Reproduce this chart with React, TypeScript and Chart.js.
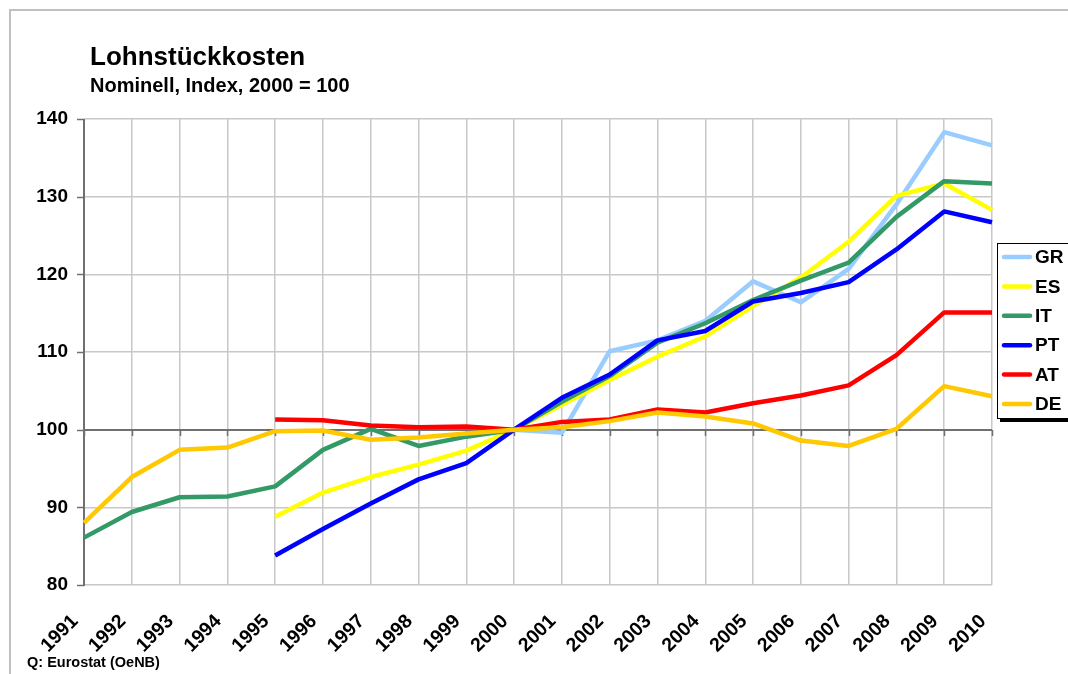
import React, { useEffect, useRef } from 'react';
import { Chart, registerables } from 'chart.js';
Chart.register(...registerables);

const years = ['1991','1992','1993','1994','1995','1996','1997','1998','1999','2000','2001','2002','2003','2004','2005','2006','2007','2008','2009','2010'];

const seriesGR = [null,null,null,null,null,null,null,null,null,100,99.6,110.1,111.5,114.0,119.1,116.4,120.7,129.0,138.3,136.6];
const seriesES = [null,null,null,null,88.8,91.9,93.9,95.5,97.3,100,103.2,106.4,109.4,112.0,115.9,119.6,124.2,130.1,131.7,128.3];
const seriesIT = [86.1,89.4,91.3,91.4,92.7,97.4,100.1,97.9,99.1,100,103.6,106.9,111.2,113.7,116.7,119.2,121.5,127.4,132.0,131.7];
const seriesPT = [null,null,null,null,83.8,87.2,90.5,93.6,95.7,100,104.1,107.1,111.5,112.7,116.5,117.6,119.0,123.2,128.1,126.7];
const seriesAT = [null,null,null,null,101.3,101.2,100.55,100.3,100.4,100,101.0,101.3,102.6,102.2,103.4,104.4,105.7,109.6,115.1,115.1];
const seriesDE = [88.0,93.9,97.4,97.7,99.8,99.9,98.7,99.0,99.5,100,100.3,101.1,102.2,101.7,100.8,98.6,97.9,100.1,105.6,104.3];

const seriesLabels = ['GR','ES','IT','PT','AT','DE'];
const seriesColors = ['#99CCFF','#FFFF00','#339966','#0000FF','#FF0000','#FFC800'];
const seriesData = [seriesGR, seriesES, seriesIT, seriesPT, seriesAT, seriesDE];

const titleText = 'Lohnstückkosten';
const subtitleText = 'Nominell, Index, 2000 = 100';
const sourceText = 'Q: Eurostat (OeNB)';

const yMin = 80;
const yMax = 140;
const yStep = 10;

const FONT = 'Arial, "Liberation Sans", sans-serif';

const decorPlugin = {
  id: 'decor',
  beforeDraw(chart: any) {
    const { ctx, width, height } = chart;
    ctx.save();
    ctx.fillStyle = '#ffffff';
    ctx.fillRect(0, 0, width, height);
    ctx.strokeStyle = '#C0C0C0';
    ctx.lineWidth = 2;
    ctx.beginPath();
    ctx.moveTo(10, height);
    ctx.lineTo(10, 10);
    ctx.lineTo(width, 10);
    ctx.stroke();
    ctx.restore();
  },
  beforeDatasetsDraw(chart: any) {
    const { ctx, chartArea, scales } = chart;
    const x = scales.x;
    const y = scales.y;
    ctx.save();
    ctx.strokeStyle = '#707070';
    ctx.lineWidth = 2;
    ctx.beginPath();
    ctx.moveTo(chartArea.left, chartArea.top);
    ctx.lineTo(chartArea.left, chartArea.bottom + 1);
    ctx.stroke();
    ctx.lineWidth = 1.5;
    y.ticks.forEach((t: any) => {
      const py = Math.round(y.getPixelForValue(t.value)) + 0.5;
      ctx.beginPath();
      ctx.moveTo(chartArea.left - 7, py);
      ctx.lineTo(chartArea.left, py);
      ctx.stroke();
    });
    const p100 = Math.round(y.getPixelForValue(100));
    ctx.lineWidth = 2;
    ctx.beginPath();
    ctx.moveTo(chartArea.left, p100);
    ctx.lineTo(chartArea.right, p100);
    ctx.stroke();
    ctx.lineWidth = 1.5;
    years.forEach((_, i) => {
      const px = Math.round(x.getPixelForValue(i)) + 0.5;
      ctx.beginPath();
      ctx.moveTo(px, p100);
      ctx.lineTo(px, p100 + 6);
      ctx.stroke();
    });
    ctx.restore();
  },
  afterDraw(chart: any) {
    const { ctx } = chart;
    ctx.save();
    ctx.fillStyle = '#000000';
    ctx.textBaseline = 'alphabetic';
    ctx.textAlign = 'left';
    ctx.font = `bold 26px ${FONT}`;
    ctx.fillText(titleText, 90, 65);
    ctx.font = `bold 20px ${FONT}`;
    ctx.fillText(subtitleText, 90, 92);
    ctx.font = `bold 14.5px ${FONT}`;
    ctx.fillText(sourceText, 27, 667);

    // legend
    const lx = 997, ly = 243, lw = 80, lh = 175;
    ctx.fillStyle = '#000000';
    ctx.fillRect(lx + 3, ly + lh, lw, 4);
    ctx.fillStyle = '#ffffff';
    ctx.fillRect(lx, ly, lw, lh);
    ctx.strokeStyle = '#000000';
    ctx.lineWidth = 1;
    ctx.strokeRect(lx + 0.5, ly + 0.5, lw, lh);
    ctx.font = `bold 19px ${FONT}`;
    ctx.textBaseline = 'middle';
    seriesLabels.forEach((lab, i) => {
      const cy = 257 + i * 29.4;
      ctx.strokeStyle = seriesColors[i];
      ctx.lineWidth = 4.5;
      ctx.lineCap = 'round';
      ctx.beginPath();
      ctx.moveTo(1004, cy);
      ctx.lineTo(1030, cy);
      ctx.stroke();
      ctx.fillStyle = '#000000';
      ctx.fillText(lab, 1035, cy + 1);
    });
    ctx.restore();
  },
};

export default function App() {
  const ref = useRef<HTMLCanvasElement>(null);
  useEffect(() => {
    if (!ref.current) return;
    const chart = new Chart(ref.current, {
      type: 'line',
      data: {
        labels: years,
        datasets: seriesLabels.map((lab, i) => ({
          label: lab,
          data: seriesData[i],
          borderColor: seriesColors[i],
          backgroundColor: seriesColors[i],
          borderWidth: 4.5,
          pointRadius: 0,
          tension: 0,
          borderJoinStyle: 'round',
          spanGaps: false,
          order: seriesLabels.length - i,
        })),
      },
      plugins: [decorPlugin],
      options: {
        responsive: false,
        animation: false,
        layout: { padding: { left: 0, right: 76, top: 119, bottom: 0 } },
        plugins: {
          legend: { display: false },
          tooltip: { enabled: false },
          title: { display: false },
        },
        scales: {
          x: {
            offset: false,
            grid: { color: '#C8C8C8', lineWidth: 1.5, drawTicks: false },
            border: { display: false },
            ticks: {
              autoSkip: false,
              maxRotation: 45,
              minRotation: 45,
              padding: 25,
              labelOffset: -9,
              color: '#000000',
              font: { family: FONT, size: 19.5, weight: 'bold' },
            },
            afterFit: (s: any) => { s.height = 89; },
          },
          y: {
            min: yMin,
            max: yMax,
            grid: { color: '#C8C8C8', lineWidth: 1.5, drawTicks: false },
            border: { display: false },
            ticks: {
              stepSize: yStep,
              padding: 16,
              color: '#000000',
              font: { family: FONT, size: 19, weight: 'bold' },
            },
            afterFit: (s: any) => { s.width = 84; },
          },
        },
      } as any,
    });
    return () => chart.destroy();
  }, []);
  return (
    <div style={{ position: 'absolute', left: 0, top: 0, width: 1068, height: 674, background: '#ffffff' }}>
      <canvas ref={ref} width={1068} height={674} style={{ display: 'block' }} />
    </div>
  );
}
